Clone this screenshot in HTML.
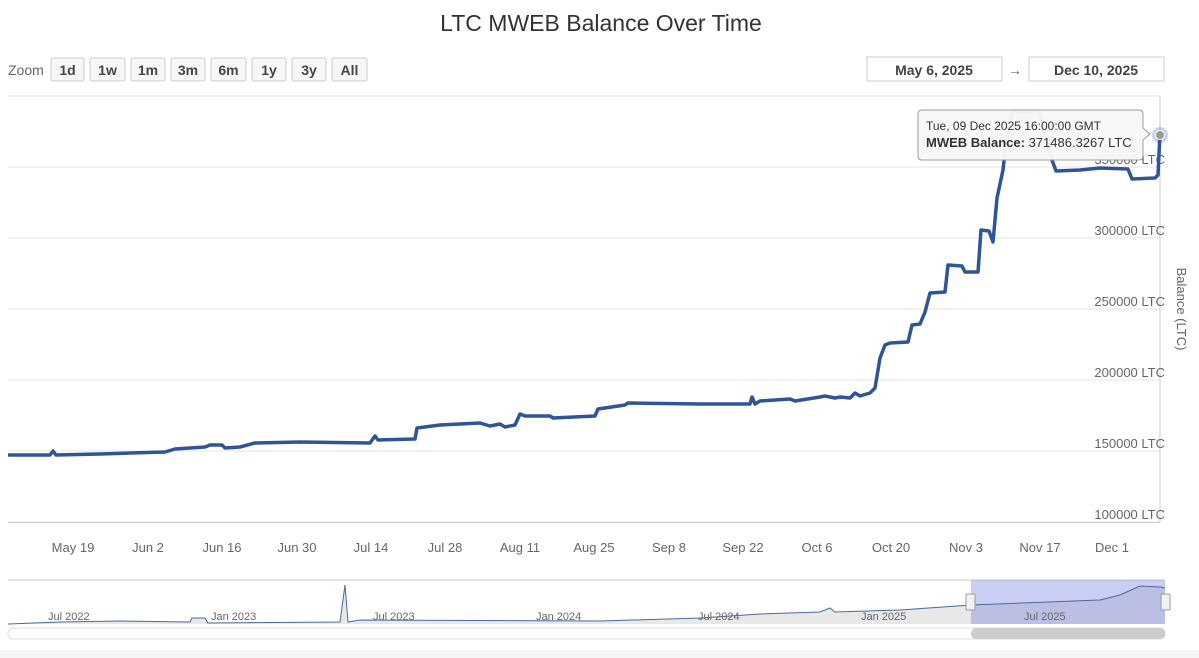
<!DOCTYPE html>
<html><head><meta charset="utf-8"><style>
body{margin:0;background:#fff;font-family:"Liberation Sans",sans-serif}
svg{display:block}
</style></head><body>
<svg width="1199" height="658" viewBox="0 0 1199 658" font-family="Liberation Sans, sans-serif">
<rect width="1199" height="658" fill="#fff"/>
<text x="601" y="31" text-anchor="middle" font-size="23" fill="#333">LTC MWEB Balance Over Time</text>
<text x="8" y="75" font-size="14" fill="#666">Zoom</text>
<g font-size="14" font-weight="bold" fill="#444" text-anchor="middle">
<rect x="51" y="58" width="33" height="23" rx="2" fill="#f7f7f7" stroke="#ccc"/><text x="67.5" y="75">1d</text>
<rect x="90" y="58" width="35" height="23" rx="2" fill="#f7f7f7" stroke="#ccc"/><text x="107.5" y="75">1w</text>
<rect x="131" y="58" width="34" height="23" rx="2" fill="#f7f7f7" stroke="#ccc"/><text x="148" y="75">1m</text>
<rect x="171" y="58" width="34" height="23" rx="2" fill="#f7f7f7" stroke="#ccc"/><text x="188" y="75">3m</text>
<rect x="211" y="58" width="35" height="23" rx="2" fill="#f7f7f7" stroke="#ccc"/><text x="228.5" y="75">6m</text>
<rect x="252" y="58" width="34" height="23" rx="2" fill="#f7f7f7" stroke="#ccc"/><text x="269" y="75">1y</text>
<rect x="292" y="58" width="34" height="23" rx="2" fill="#f7f7f7" stroke="#ccc"/><text x="309" y="75">3y</text>
<rect x="332" y="58" width="35" height="23" rx="2" fill="#f7f7f7" stroke="#ccc"/><text x="349.5" y="75">All</text>
<rect x="867" y="57" width="135" height="24" fill="#fff" stroke="#ccc"/><text x="934" y="75">May 6, 2025</text>
<rect x="1029" y="57" width="135" height="24" fill="#fff" stroke="#ccc"/><text x="1096" y="75">Dec 10, 2025</text>
</g>
<text x="1015" y="75" font-size="14" fill="#666" text-anchor="middle">→</text>
<g stroke="#e6e6e6" stroke-width="1">
<line x1="8" x2="1160" y1="96" y2="96"/><line x1="8" x2="1160" y1="167" y2="167"/>
<line x1="8" x2="1160" y1="238" y2="238"/><line x1="8" x2="1160" y1="309" y2="309"/>
<line x1="8" x2="1160" y1="380" y2="380"/><line x1="8" x2="1160" y1="451" y2="451"/>
<line x1="8" x2="1160" y1="522" y2="522"/>
</g>
<line x1="1160" x2="1160" y1="96" y2="522" stroke="#ccc"/>
<line x1="8" x2="1160" y1="522.5" y2="522.5" stroke="#ccc"/>
<g font-size="13" fill="#666" text-anchor="end">
<text x="1165" y="519">100000 LTC</text><text x="1165" y="448">150000 LTC</text>
<text x="1165" y="377">200000 LTC</text><text x="1165" y="306">250000 LTC</text>
<text x="1165" y="235">300000 LTC</text><text x="1165" y="164">350000 LTC</text>
</g>
<text transform="translate(1177,309) rotate(90)" font-size="13" fill="#666" text-anchor="middle">Balance (LTC)</text>
<g font-size="13" fill="#666" text-anchor="middle">
<text x="73" y="552">May 19</text><text x="148" y="552">Jun 2</text><text x="222" y="552">Jun 16</text>
<text x="297" y="552">Jun 30</text><text x="371" y="552">Jul 14</text><text x="445" y="552">Jul 28</text>
<text x="520" y="552">Aug 11</text><text x="594" y="552">Aug 25</text><text x="669" y="552">Sep 8</text>
<text x="743" y="552">Sep 22</text><text x="817" y="552">Oct 6</text><text x="891" y="552">Oct 20</text>
<text x="966" y="552">Nov 3</text><text x="1040" y="552">Nov 17</text><text x="1112" y="552">Dec 1</text>
</g>
<polyline fill="none" stroke="#2f5597" stroke-width="3.5" stroke-linejoin="round" points="8,455 50,455 53,451 56,455 100,454 130,453 165,452 175,449 205,447 210,445 222,445 225,448 240,447 255,443 300,442 370,443 375,436 378,440 415,439 417,428 440,425 480,423 490,426 500,424 505,427 515,425 520,414 525,416 550,416 553,418 595,416 598,409 625,405 628,403 700,404 750,404 752,397 755,404 760,401 790,399 795,401 820,397 825,396 835,398 840,397 850,398 855,393 860,396 870,393 875,388 880,358 885,345 890,343 908,342 912,325 920,324 925,312 930,293 945,292 948,265 962,266 965,272 978,272 981,230 989,231 993,242 997,198 1003,170 1007,135 1012,112 1040,112 1052,160 1056,171 1080,170 1100,168 1128,169 1132,179 1155,178 1158,175 1160,133"/>
<circle cx="1160" cy="135" r="8" fill="#2f5597" opacity="0.25"/>
<circle cx="1160" cy="135" r="4.5" fill="#999" stroke="#fff" stroke-width="1"/>
<g>
<path d="M922 110 H1139 Q1143 110 1143 114 V128 L1150 134 L1143 140 V156 Q1143 160 1139 160 H922 Q918 160 918 156 V114 Q918 110 922 110 Z" fill="#f7f7f7" stroke="#999" opacity="0.97"/>
<text x="926" y="130" font-size="12" fill="#333">Tue, 09 Dec 2025 16:00:00 GMT</text>
<text x="926" y="147" font-size="13" fill="#333"><tspan font-weight="bold">MWEB Balance:</tspan> 371486.3267 LTC</text>
</g>
<line x1="8" x2="1165" y1="580" y2="580" stroke="#ccc"/>
<path d="M8 624 L60 622 L120 621 L190 622 L192 618 L205 618 L208 623 L340 622 L345 585 L348 622 L360 620 L600 621 L700 618 L760 614 L820 612 L830 608 L835 612 L900 610 L971 605 L1100 600 L1120 595 L1140 586 L1160 587 L1165 588 L1165 624 Z" fill="#e8e8e8"/>
<rect x="971" y="580" width="194" height="44" fill="#6672e0" opacity="0.35"/>
<polyline fill="none" stroke="#4a6a9c" stroke-width="1" points="8,624 60,622 120,621 190,622 192,618 205,618 208,623 340,622 345,585 348,622 360,620 600,621 700,618 760,614 820,612 830,608 835,612 900,610 971,605 1100,600 1120,595 1140,586 1160,587 1165,588"/>
<g font-size="11" fill="#666"><text x="48" y="620">Jul 2022</text><text x="211" y="620">Jan 2023</text><text x="373" y="620">Jul 2023</text><text x="536" y="620">Jan 2024</text><text x="698" y="620">Jul 2024</text><text x="861" y="620">Jan 2025</text><text x="1024" y="620">Jul 2025</text></g>
<rect x="966" y="594" width="9" height="16" rx="1" fill="#f2f2f2" stroke="#999"/>
<rect x="1161" y="594" width="9" height="16" rx="1" fill="#f2f2f2" stroke="#999"/>
<rect x="8" y="628" width="1157" height="11" rx="5" fill="#fff" stroke="#ddd"/>
<rect x="971" y="628" width="194" height="11" rx="5" fill="#ccc"/>
<rect x="0" y="650" width="1199" height="8" fill="#f5f5f5"/>
</svg>
</body></html>
